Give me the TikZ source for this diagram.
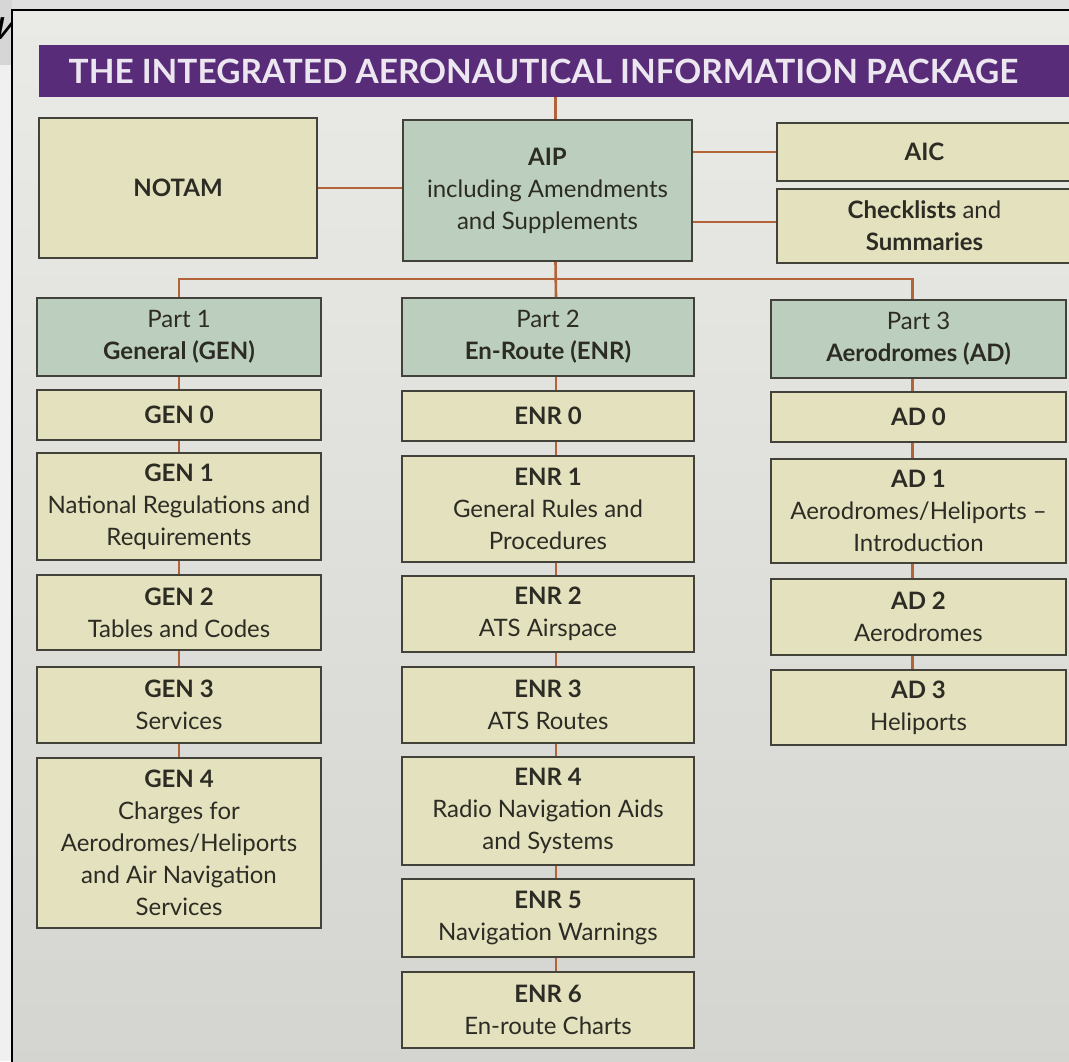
\documentclass[tikz,border=0pt]{standalone}
\usepackage{fontspec}
\setmainfont{Lato}
\newfontfamily\cyrfont{DejaVu Sans}
\usetikzlibrary{positioning, calc}
\definecolor{pagetop}{RGB}{234,234,231}
\definecolor{pagebot}{RGB}{212,212,208}
\definecolor{barpurple}{RGB}{88,44,120}
\definecolor{titletxt}{RGB}{236,230,240}
\definecolor{boxyel}{RGB}{228,226,190}
\definecolor{boxgrn}{RGB}{188,207,190}
\definecolor{boxline}{RGB}{66,66,58}
\definecolor{wire}{RGB}{178,100,56}
\definecolor{inktxt}{RGB}{44,44,36}
\tikzset{
  titlebar/.style={rectangle, fill=barpurple, minimum width=516.5pt, minimum height=26pt,
                   inner sep=0pt, font=\fontsize{16.7}{18}\selectfont\bfseries, text=titletxt},
  docbox/.style={rectangle, draw=boxline, line width=1pt, fill=boxyel, text=inktxt,
                 align=center, inner sep=0pt, font=\fontsize{12}{16}\selectfont},
  headbox/.style={docbox, fill=boxgrn},
  colgen/.style={minimum width=142pt},
  colenr/.style={minimum width=146pt},
  colad/.style={minimum width=147.5pt},
  wireln/.style={draw=wire, line width=1.3pt},
}
\newcommand{\chainlink}[3]{\draw[wireln] ([xshift=#3]#1.south) -- ([xshift=#3]#2.north);}

\begin{document}
\begin{tikzpicture}[x=0.5pt, y=-0.5pt]

\useasboundingbox (0,0) rectangle (1069,1061);
\clip (0,0) rectangle (1069,1061);

\fill[black!12] (0,0) rectangle (1069,10);
\fill[black!16] (0,0) rectangle (12,65);
\fill[black!6] (0,65) rectangle (12,1061);
\node[font=\cyrfont\itshape\fontsize{20}{20}\selectfont, anchor=base west, inner sep=0pt] (cyrmark) at (-5,39) {и};
\shade[top color=pagetop, bottom color=pagebot] (12,10) rectangle (1080,1075);
\draw[black, line width=0.9pt] (1080,10) -- (12,10) -- (12,1075);

\node[titlebar] (title) at (555.5,71) {\hspace*{-12pt}THE INTEGRATED AERONAUTICAL INFORMATION PACKAGE};

\node[docbox, minimum width=139pt, minimum height=70pt] (notam) at (178,188) {\textbf{NOTAM}};
\node[headbox, minimum width=144.5pt, minimum height=70.5pt] (aip) at (547.5,190.5)
  {\textbf{AIP}\\including Amendments\\and Supplements};
\node[docbox, minimum width=147.5pt, minimum height=29pt] (aic) at (924.5,152) {\textbf{AIC}};
\node[docbox, minimum width=147.5pt, minimum height=37pt] (chklist) at (924.5,226)
  {\textbf{Checklists} and\\\textbf{Summaries}};

\node[headbox, colgen, minimum height=39pt] (partgen) at (179,337) {Part 1\\\textbf{General (GEN)}};
\node[headbox, colenr, minimum height=39pt] (partenr) at (548,337) {Part 2\\\textbf{En-Route (ENR)}};
\node[headbox, colad, minimum height=39pt] (partad) at (918.5,339) {Part 3\\\textbf{Aerodromes (AD)}};

\node[docbox, colgen, minimum height=25pt] (gen0) at (179,415) {\textbf{GEN 0}};
\node[docbox, colgen, minimum height=53.5pt] (gen1) at (179,506.5)
  {\textbf{GEN 1}\\National Regulations and\\Requirements};
\node[docbox, colgen, minimum height=37.5pt] (gen2) at (179,612.5) {\textbf{GEN 2}\\Tables and Codes};
\node[docbox, colgen, minimum height=38pt] (gen3) at (179,705) {\textbf{GEN 3}\\Services};
\node[docbox, colgen, minimum height=85pt] (gen4) at (179,843)
  {\textbf{GEN 4}\\Charges for\\Aerodromes/Heliports\\and Air Navigation\\Services};

\node[docbox, colenr, minimum height=25pt] (enr0) at (548,416) {\textbf{ENR 0}};
\node[docbox, colenr, minimum height=53pt] (enr1) at (548,509)
  {\textbf{ENR 1}\\General Rules and\\Procedures};
\node[docbox, colenr, minimum height=38pt] (enr2) at (548,614) {\textbf{ENR 2}\\ATS Airspace};
\node[docbox, colenr, minimum height=38pt] (enr3) at (548,705) {\textbf{ENR 3}\\ATS Routes};
\node[docbox, colenr, minimum height=54pt] (enr4) at (548,811)
  {\textbf{ENR 4}\\Radio Navigation Aids\\and Systems};
\node[docbox, colenr, minimum height=39pt] (enr5) at (548,918) {\textbf{ENR 5}\\Navigation Warnings};
\node[docbox, colenr, minimum height=38pt] (enr6) at (548,1010) {\textbf{ENR 6}\\En-route Charts};

\node[docbox, colad, minimum height=25pt] (ad0) at (918.5,417) {\textbf{AD 0}};
\node[docbox, colad, minimum height=52pt] (ad1) at (918.5,511)
  {\textbf{AD 1}\\Aerodromes/Heliports --\\Introduction};
\node[docbox, colad, minimum height=38pt] (ad2) at (918.5,617) {\textbf{AD 2}\\Aerodromes};
\node[docbox, colad, minimum height=37.5pt] (ad3) at (918.5,707.5) {\textbf{AD 3}\\Heliports};

\draw[wireln] ([xshift=4pt]aip.north) -- ([xshift=4pt]aip.north |- title.south);
\draw[wireln] (notam.east) -- (notam.east -| aip.west);
\draw[wireln] (aic.west -| aip.east) -- (aic.west);
\draw[wireln] ([yshift=2pt]chklist.west -| aip.east) -- ([yshift=2pt]chklist.west);
\draw[wireln] ([xshift=4pt]aip.south) -- ([xshift=4pt]partenr.north);
\draw[wireln] (partgen.north) -- ++(0,-18) -| ([xshift=-3pt]partad.north);

\foreach \a/\b in {partgen/gen0, gen0/gen1, gen1/gen2, gen2/gen3, gen3/gen4}{
  \chainlink{\a}{\b}{0pt}
}
\foreach \a/\b in {partenr/enr0, enr0/enr1, enr1/enr2, enr2/enr3, enr3/enr4, enr4/enr5, enr5/enr6}{
  \chainlink{\a}{\b}{4pt}
}
\foreach \a/\b in {partad/ad0, ad0/ad1, ad1/ad2, ad2/ad3}{
  \chainlink{\a}{\b}{-3pt}
}

\end{tikzpicture}
\end{document}
